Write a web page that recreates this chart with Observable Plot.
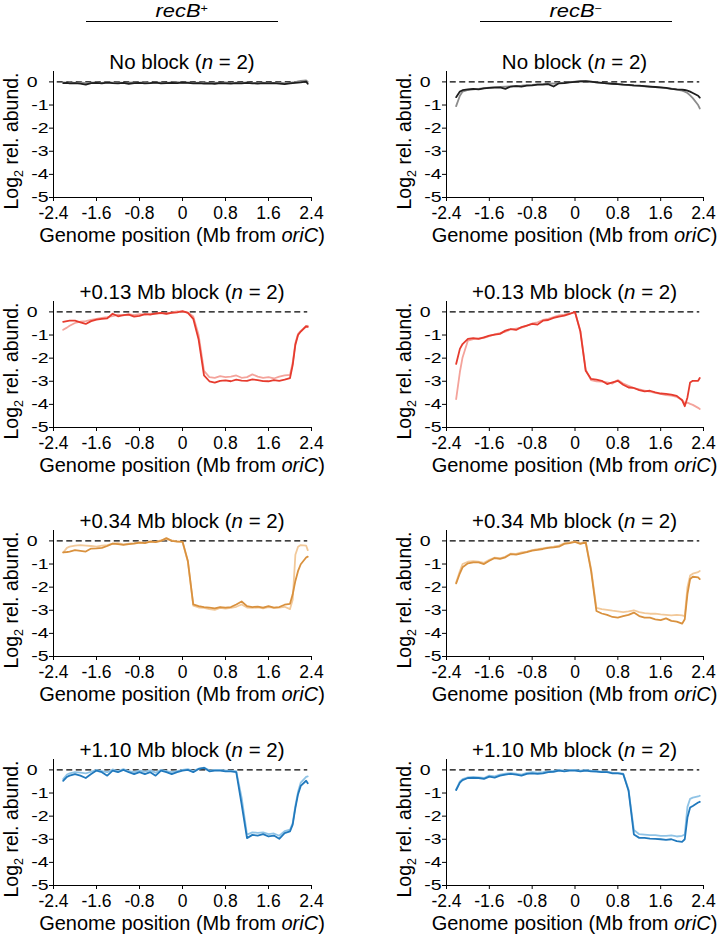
<!DOCTYPE html>
<html><head><meta charset="utf-8">
<script src="https://cdn.jsdelivr.net/npm/d3@7"></script>
<script src="https://cdn.jsdelivr.net/npm/@observablehq/plot@0.6"></script>
<style>
html,body{margin:0;padding:0;background:#fff;overflow:hidden;}
#page{position:relative;width:718px;height:936px;font-family:"Liberation Sans",Arial,Helvetica,sans-serif;color:#000;}
.hdr{position:absolute;top:0;height:21px;border-bottom:1.3px solid #000;text-align:center;font-style:italic;font-size:19px;line-height:21px;}
.hdr span{display:inline-block;transform:scaleX(1.15);transform-origin:50% 50%;}
.hdr sup{font-size:11px;vertical-align:5px;line-height:0;font-style:normal;}
.panel{position:absolute;}
</style></head><body><div id="page"></div>
<script>
// ---- data ----
const positions = [-2.22,-2.15,-2.1,-2.0,-1.9,-1.8,-1.7,-1.6,-1.5,-1.4,-1.3,-1.2,-1.1,-1.0,-0.9,-0.8,-0.7,-0.6,-0.5,-0.4,-0.3,-0.2,-0.1,0,0.1,0.2,0.3,0.4,0.5,0.6,0.7,0.8,0.9,1.0,1.1,1.2,1.3,1.4,1.5,1.6,1.7,1.8,1.9,2.0,2.05,2.1,2.15,2.2,2.3,2.33];
const xTicks = [-2.4,-1.6,-0.8,0,0.8,1.6,2.4];
const yTicks = [0,-1,-2,-3,-4,-5];
const strainNames = ["recB", "recB"];
const strainSigns = ["+", "\u2212"];
const blockTitles = ["No block","+0.13 Mb block","+0.34 Mb block","+1.10 Mb block"];
const replicates = [2,2,2,2];
const darkColors = ["#1e1e1e","#e63b2e","#d9913e","#2179bd"];
const lightColors = ["#8c8c8c","#f4a39b","#f2c99a","#8fc3e6"];
const dashFrom = -2.33, dashTo = 2.33;

// recB+ panels
const plusNoBlockDark = [-0.05,-0.04,-0.06,-0.05,-0.07,-0.12,-0.05,-0.04,-0.06,-0.03,-0.05,-0.06,-0.04,-0.08,-0.05,-0.04,-0.06,-0.05,-0.03,-0.06,-0.05,-0.04,-0.05,-0.03,-0.04,-0.06,-0.05,-0.07,-0.06,-0.08,-0.05,-0.06,-0.07,-0.05,-0.06,-0.04,-0.06,-0.07,-0.05,-0.06,-0.05,-0.07,-0.1,-0.06,-0.05,-0.04,-0.03,-0.02,0.01,-0.08];
const plusNoBlockLight = [-0.02,-0.03,-0.01,-0.04,-0.02,-0.05,-0.03,-0.02,-0.04,-0.01,-0.03,-0.02,-0.04,-0.03,-0.02,-0.03,-0.01,-0.04,-0.02,-0.03,-0.04,-0.02,-0.01,-0.03,-0.02,-0.04,-0.03,-0.02,-0.05,-0.03,-0.04,-0.02,-0.05,-0.03,-0.04,-0.02,-0.05,-0.04,-0.03,-0.05,-0.04,-0.03,-0.05,-0.04,-0.02,-0.01,0.02,0.04,0.06,0.0];
const plus013Dark = [-0.43,-0.4,-0.38,-0.38,-0.45,-0.52,-0.4,-0.33,-0.3,-0.28,-0.08,-0.19,-0.14,-0.12,-0.2,-0.17,-0.1,-0.12,-0.06,-0.04,-0.08,-0.04,-0.02,0.03,-0.04,-0.3,-1.2,-2.75,-3.0,-3.06,-2.98,-2.96,-3.0,-2.93,-2.97,-2.98,-2.92,-2.95,-2.99,-3.0,-2.95,-2.98,-2.93,-2.86,-2.3,-1.42,-1.0,-0.85,-0.62,-0.65];
const plus013Light = [-0.77,-0.68,-0.6,-0.48,-0.42,-0.4,-0.35,-0.3,-0.26,-0.23,-0.18,-0.12,-0.15,-0.1,-0.14,-0.1,-0.12,-0.08,-0.1,-0.05,-0.07,-0.02,0.02,0.0,-0.02,-0.2,-1.0,-2.55,-2.82,-2.85,-2.78,-2.82,-2.8,-2.75,-2.85,-2.82,-2.7,-2.8,-2.85,-2.82,-2.88,-2.8,-2.75,-2.72,-2.2,-1.35,-0.95,-0.82,-0.62,-0.6];
const plus034Dark = [-0.5,-0.48,-0.46,-0.4,-0.43,-0.46,-0.33,-0.32,-0.3,-0.22,-0.12,-0.14,-0.17,-0.14,-0.12,-0.07,-0.1,-0.03,-0.05,0.0,0.12,0.0,-0.03,-0.03,-0.87,-2.75,-2.82,-2.86,-2.89,-2.92,-2.86,-2.89,-2.86,-2.75,-2.62,-2.82,-2.86,-2.84,-2.89,-2.82,-2.89,-2.86,-2.76,-2.72,-2.31,-1.73,-1.3,-1.01,-0.72,-0.68];
const plus034Light = [-0.5,-0.3,-0.25,-0.2,-0.18,-0.2,-0.22,-0.25,-0.2,-0.18,-0.12,-0.1,-0.15,-0.12,-0.1,-0.06,-0.08,-0.02,-0.04,0.02,0.08,0.02,-0.02,-0.05,-0.9,-2.8,-2.88,-2.9,-2.95,-2.98,-2.9,-2.93,-2.9,-2.85,-2.75,-2.88,-2.9,-2.88,-2.92,-2.86,-2.9,-2.88,-2.85,-2.95,-2.55,-0.6,-0.25,-0.18,-0.2,-0.4];
const plus110Dark = [-0.47,-0.3,-0.25,-0.18,-0.25,-0.35,-0.18,-0.03,-0.1,-0.25,-0.03,-0.1,0.0,-0.1,-0.18,-0.1,-0.18,-0.1,-0.25,-0.03,-0.1,-0.18,-0.1,-0.03,0.0,-0.1,0.04,0.09,-0.06,-0.03,-0.03,-0.06,-0.06,-0.1,-1.49,-2.95,-2.81,-2.84,-2.78,-2.88,-2.84,-2.98,-2.73,-2.66,-2.37,-1.64,-1.05,-0.69,-0.47,-0.58];
const plus110Light = [-0.4,-0.2,-0.15,-0.1,-0.12,-0.15,-0.08,0.0,-0.05,-0.1,0.02,-0.05,0.03,-0.05,-0.1,-0.03,-0.08,-0.02,-0.12,0.0,-0.05,-0.1,-0.05,0.0,0.03,-0.05,0.06,0.1,-0.02,0.0,0.0,-0.02,-0.03,-0.05,-1.2,-2.8,-2.7,-2.72,-2.7,-2.78,-2.75,-2.85,-2.65,-2.58,-2.3,-1.55,-0.95,-0.55,-0.3,-0.28];

// recB- panels
const minusNoBlockDark = [-0.66,-0.42,-0.36,-0.32,-0.3,-0.32,-0.28,-0.26,-0.25,-0.24,-0.3,-0.2,-0.18,-0.2,-0.16,-0.15,-0.12,-0.12,-0.1,-0.2,-0.06,-0.05,-0.02,0.0,0.02,0.03,0.01,-0.02,-0.04,-0.06,-0.08,-0.1,-0.12,-0.13,-0.15,-0.16,-0.18,-0.2,-0.22,-0.24,-0.26,-0.3,-0.32,-0.33,-0.35,-0.38,-0.42,-0.48,-0.6,-0.68];
const minusNoBlockLight = [-1.05,-0.6,-0.42,-0.35,-0.32,-0.3,-0.27,-0.25,-0.23,-0.22,-0.2,-0.19,-0.17,-0.16,-0.14,-0.13,-0.11,-0.1,-0.08,-0.07,-0.05,-0.03,-0.01,0.01,0.03,0.02,0.0,-0.02,-0.04,-0.06,-0.08,-0.1,-0.12,-0.14,-0.16,-0.17,-0.19,-0.21,-0.23,-0.25,-0.27,-0.29,-0.33,-0.38,-0.42,-0.48,-0.58,-0.7,-1.0,-1.15];
const minus013Dark = [-2.25,-1.6,-1.39,-1.17,-1.13,-1.17,-1.1,-1.03,-0.98,-0.95,-0.81,-0.74,-0.78,-0.66,-0.59,-0.52,-0.55,-0.38,-0.35,-0.26,-0.2,-0.16,-0.09,0.0,-0.85,-2.55,-2.9,-2.93,-2.98,-3.12,-3.05,-2.98,-3.15,-3.27,-3.29,-3.38,-3.44,-3.41,-3.48,-3.53,-3.55,-3.58,-3.63,-3.82,-4.08,-3.7,-3.05,-2.98,-2.98,-2.86];
const minus013Light = [-3.77,-2.6,-1.97,-1.24,-1.18,-1.15,-1.12,-1.05,-0.97,-0.92,-0.85,-0.76,-0.72,-0.68,-0.6,-0.5,-0.45,-0.35,-0.3,-0.22,-0.15,-0.12,-0.06,-0.02,-0.8,-2.5,-2.95,-3.0,-3.02,-3.05,-3.1,-2.95,-3.1,-3.2,-3.3,-3.35,-3.4,-3.45,-3.5,-3.55,-3.6,-3.62,-3.68,-3.8,-3.95,-3.92,-3.98,-4.02,-4.15,-4.2];
const minus034Dark = [-1.84,-1.4,-1.14,-0.97,-0.93,-0.93,-1.0,-0.86,-0.74,-0.78,-0.71,-0.57,-0.59,-0.54,-0.49,-0.42,-0.39,-0.35,-0.3,-0.28,-0.25,-0.13,-0.1,-0.04,-0.13,-0.06,-1.29,-3.03,-3.14,-3.2,-3.29,-3.32,-3.25,-3.2,-3.1,-3.25,-3.32,-3.32,-3.39,-3.43,-3.35,-3.46,-3.49,-3.58,-3.39,-2.3,-1.65,-1.55,-1.58,-1.65];
const minus034Light = [-1.8,-1.3,-1.0,-0.9,-0.88,-0.9,-0.95,-0.82,-0.72,-0.75,-0.68,-0.55,-0.56,-0.5,-0.46,-0.4,-0.36,-0.32,-0.28,-0.25,-0.2,-0.1,-0.06,-0.02,-0.1,-0.04,-1.2,-2.9,-2.95,-2.98,-3.02,-3.05,-3.08,-3.05,-3.0,-3.08,-3.12,-3.15,-3.15,-3.18,-3.2,-3.22,-3.2,-3.22,-3.25,-2.0,-1.5,-1.42,-1.35,-1.3];
const minus110Dark = [-0.87,-0.55,-0.44,-0.35,-0.35,-0.35,-0.39,-0.29,-0.33,-0.25,-0.2,-0.17,-0.2,-0.25,-0.17,-0.15,-0.17,-0.15,-0.1,-0.08,-0.03,-0.06,-0.03,-0.03,-0.06,-0.03,-0.06,-0.07,-0.1,-0.1,-0.15,-0.15,-0.18,-0.9,-2.79,-2.94,-2.94,-2.97,-2.98,-3.0,-3.03,-3.0,-3.08,-3.11,-3.0,-2.06,-1.63,-1.56,-1.41,-1.38];
const minus110Light = [-0.85,-0.5,-0.4,-0.32,-0.3,-0.32,-0.35,-0.25,-0.28,-0.2,-0.16,-0.14,-0.16,-0.2,-0.13,-0.1,-0.12,-0.1,-0.06,-0.04,0.0,-0.03,0.0,0.0,-0.03,0.0,-0.03,-0.05,-0.08,-0.08,-0.12,-0.13,-0.16,-0.85,-2.6,-2.78,-2.8,-2.82,-2.82,-2.85,-2.85,-2.83,-2.88,-2.85,-2.8,-1.6,-1.25,-1.2,-1.15,-1.12];

const panels = [
  [plusNoBlockDark, plusNoBlockLight, minusNoBlockDark, minusNoBlockLight],
  [plus013Dark, plus013Light, minus013Dark, minus013Light],
  [plus034Dark, plus034Light, minus034Dark, minus034Light],
  [plus110Dark, plus110Light, minus110Dark, minus110Light]
];

// ---- layout ----
const FONT = '"Liberation Sans", Arial, Helvetica, sans-serif';
const page = document.getElementById("page");
const rowTops = [35.6, 265.6, 494.6, 723.6];
const colLefts = [0, 359];
const hdrBox = [[86, 192], [480, 192]];

strainNames.forEach((name, c) => {
  const h = document.createElement("div");
  h.className = "hdr";
  h.style.left = hdrBox[c][0] + "px";
  h.style.width = hdrBox[c][1] + "px";
  const span = document.createElement("span");
  span.appendChild(document.createTextNode(name));
  const sup = document.createElement("sup");
  sup.textContent = strainSigns[c];
  span.appendChild(sup);
  h.appendChild(span);
  page.appendChild(h);
});

const fmtX = d => String(d);
const fmtY = d => d === 0 ? "0\u2007" : String(d);

function makePanel(row, col, dark, light) {
  const W = 359, H = 214, mT = 35, mB = 53;
  const mL = col === 0 ? 53 : 87, mR = col === 0 ? 48 : 15;
  const dLight = positions.map((x, i) => ({x, y: light[i]}));
  const dDark = positions.map((x, i) => ({x, y: dark[i]}));
  const svg = Plot.plot({
    width: W, height: H,
    marginLeft: mL, marginRight: mR, marginTop: mT, marginBottom: mB,
    style: {fontFamily: FONT, background: "transparent", overflow: "visible", color: "#000"},
    x: {domain: [-2.4, 2.4]},
    y: {domain: [-5, 0.45]},
    marks: [
      Plot.ruleY([0], {x1: dashFrom, x2: dashTo, stroke: "#000", strokeWidth: 1.3, strokeDasharray: "6,3.5"}),
      Plot.line(dLight, {x: "x", y: "y", stroke: lightColors[row], strokeWidth: 1.8}),
      Plot.line(dDark, {x: "x", y: "y", stroke: darkColors[row], strokeWidth: 1.8}),
      Plot.ruleX([-2.4], {stroke: "#000", strokeWidth: 1}),
      Plot.ruleY([-5], {stroke: "#000", strokeWidth: 1}),
      Plot.axisX({ticks: xTicks, tickSize: 4, tickPadding: 5, fontSize: 17.5, tickFormat: fmtX, label: null, stroke: "#000"}),
      Plot.axisY({ticks: yTicks, tickSize: 4, tickPadding: 1, fontSize: 15, tickFormat: fmtY, label: null, stroke: "#000"})
    ]
  });
  const s = d3.select(svg);
  // y tick labels in the reference are drawn horizontally widened
  s.selectAll('g[aria-label="y-axis tick label"] text').each(function() {
    const tr = this.getAttribute("transform") || "";
    this.setAttribute("transform", tr + " scale(1.3,1)");
  });
  const cx = mL + (W - mL - mR) / 2;
  // panel title
  const t = s.append("text").attr("x", cx).attr("y", 33.4).attr("text-anchor", "middle")
    .attr("font-size", 20.5).attr("fill", "#000").attr("font-family", FONT);
  t.append("tspan").text(blockTitles[row] + " (");
  t.append("tspan").attr("font-style", "italic").text("n");
  t.append("tspan").text(" = " + replicates[row] + ")");
  // x label
  const xl = s.append("text").attr("x", cx).attr("y", 206).attr("text-anchor", "middle")
    .attr("font-size", 20).attr("fill", "#000").attr("font-family", FONT);
  xl.append("tspan").text("Genome position (Mb from ");
  xl.append("tspan").attr("font-style", "italic").text("oriC");
  xl.append("tspan").text(")");
  // y label
  const yl = s.append("text").attr("transform", `translate(${mL - 35},105) rotate(-90)`)
    .attr("text-anchor", "middle").attr("font-size", 19.5).attr("fill", "#000").attr("font-family", FONT);
  yl.append("tspan").text("Log");
  yl.append("tspan").attr("font-size", 12.5).attr("dy", 4.5).text("2");
  yl.append("tspan").attr("dy", -4.5).text(" rel. abund.");

  const wrap = document.createElement("div");
  wrap.className = "panel";
  wrap.style.left = colLefts[col] + "px";
  wrap.style.top = rowTops[row] + "px";
  wrap.appendChild(svg);
  page.appendChild(wrap);
}

panels.forEach((p, r) => {
  makePanel(r, 0, p[0], p[1]);
  makePanel(r, 1, p[2], p[3]);
});
</script>
</body></html>
